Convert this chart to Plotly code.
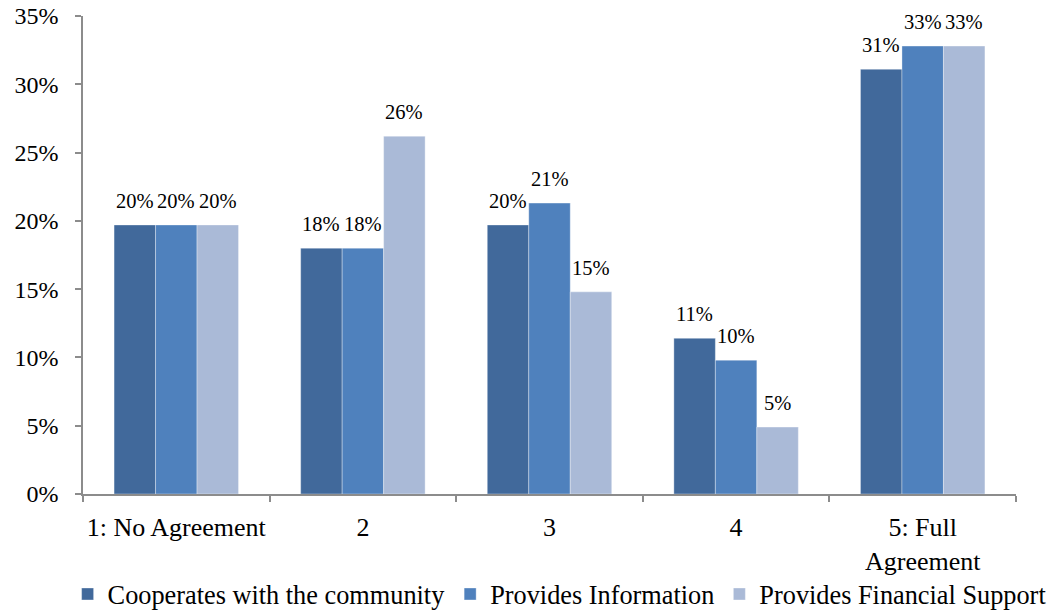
import plotly.graph_objects as go

# Survey response distribution per agreement level (percent of respondents)
categories = ["1: No Agreement", "2", "3", "4", "5: Full<br>Agreement"]
series_names = [
    "Cooperates with the community",
    "Provides Information",
    "Provides Financial Support",
]
cooperates = [19.7, 18.0, 19.7, 11.4, 31.1]
information = [19.7, 18.0, 21.3, 9.8, 32.8]
financial = [19.7, 26.2, 14.8, 4.9, 32.8]

series_values = [cooperates, information, financial]
colors = ["#41699B", "#4F81BD", "#AABAD7"]

FONT = "Liberation Serif, Times New Roman, serif"
W, H = 1059, 614
M_L, M_R, M_T, M_B = 83, 43, 16, 120
BARGAP = 0.333

fig = go.Figure()
for name, vals, col in zip(series_names, series_values, colors):
    fig.add_trace(go.Bar(
        name=name,
        x=categories,
        y=vals,
        marker=dict(color=col, line=dict(color="rgba(255,255,255,0.35)", width=1)),
        hoverinfo="skip",
    ))

# value labels above each bar, derived from the same values
plot_w = W - M_L - M_R
bar_px = plot_w / len(categories) * (1 - BARGAP) / len(series_values)
annotations = []
for i, vals in enumerate(series_values):
    for j, v in enumerate(vals):
        annotations.append(dict(
            x=j, y=v, xref="x", yref="y",
            text=f"{v:.0f}%",
            showarrow=False,
            xshift=(i - 1) * bar_px,
            yshift=11,
            yanchor="bottom",
            font=dict(family=FONT, size=20.5, color="#000000"),
        ))

fig.update_layout(
    width=W, height=H,
    margin=dict(l=M_L, r=M_R, t=M_T, b=M_B, autoexpand=False),
    paper_bgcolor="white",
    plot_bgcolor="white",
    barmode="group",
    bargap=BARGAP,
    bargroupgap=0,
    font=dict(family=FONT, size=26, color="#000000"),
    annotations=annotations,
    showlegend=True,
    legend=dict(
        orientation="h",
        x=-0.0165, xanchor="left",
        y=-0.21, yanchor="middle",
        font=dict(family=FONT, size=26.3, color="#000000"),
        itemwidth=30,
        tracegroupgap=0,
        bgcolor="rgba(0,0,0,0)",
    ),
)

fig.update_xaxes(
    type="category",
    automargin=False,
    tickangle=0,
    showline=True, linecolor="#8C8C8C", linewidth=1.5,
    ticks="outside", tickson="boundaries", ticklen=6,
    tickcolor="#8C8C8C", tickwidth=1.5,
    ticklabelstandoff=9,
    showgrid=False, zeroline=False,
    tickfont=dict(family=FONT, size=26, color="#000000"),
)
fig.update_yaxes(
    automargin=False,
    range=[0, 35], dtick=5, ticksuffix="%",
    showline=True, linecolor="#8C8C8C", linewidth=1.5,
    ticks="outside", ticklen=6, tickcolor="#8C8C8C", tickwidth=1.5,
    ticklabelstandoff=12,
    showgrid=False, zeroline=False,
    tickfont=dict(family=FONT, size=24, color="#000000"),
)

fig.write_html("out.html")
